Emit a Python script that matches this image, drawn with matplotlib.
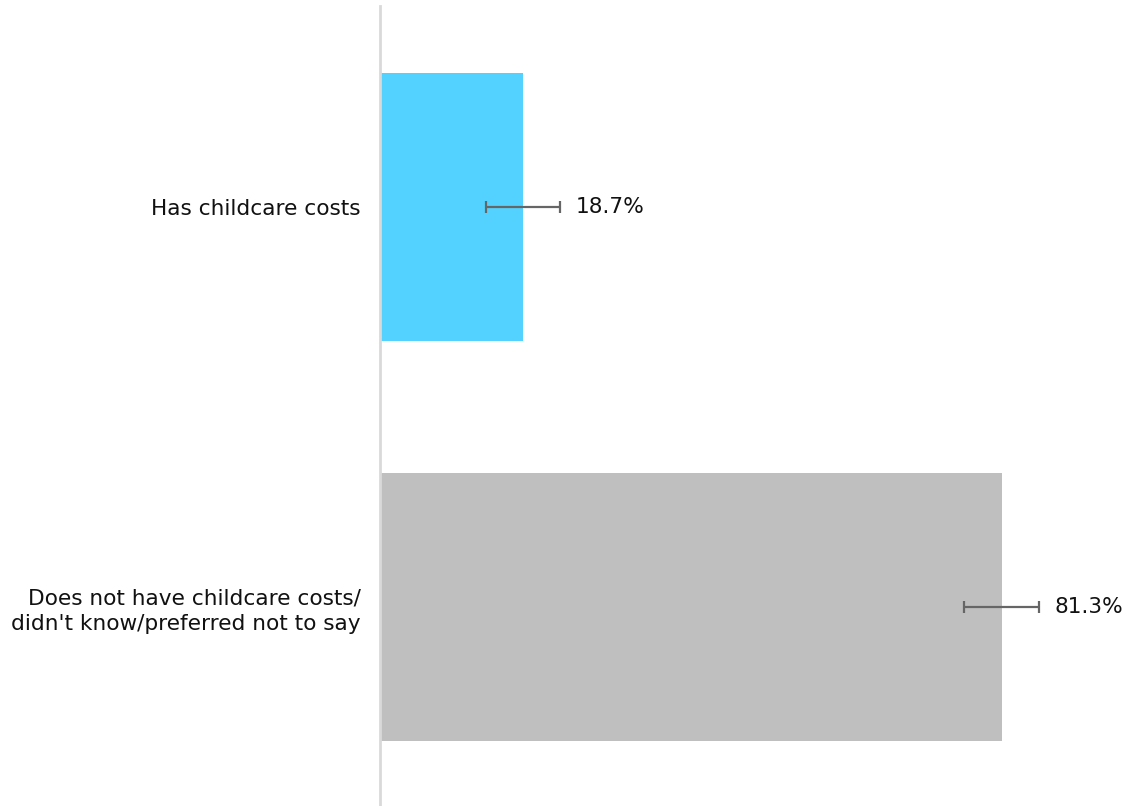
import matplotlib.pyplot as plt

# data
categories = ["Has childcare costs",
              "Does not have childcare costs/\ndidn't know/preferred not to say"]
values = [18.7, 81.3]
errors = [4.9, 4.9]
bar_colors = ["#53D2FF", "#BFBFBF"]

fig = plt.figure(figsize=(11.4, 8.06), dpi=100)
# axes start at the vertical line (x=380px) and run to the right edge
ax = fig.add_axes([380 / 1140, 0, 760 / 1140, 800 / 806])

ypos = list(range(len(categories)))
ax.barh(ypos, values, height=0.67, color=bar_colors, zorder=1)
ax.errorbar(values, ypos, xerr=errors, fmt="none", ecolor="#666666",
            elinewidth=1.6, capsize=4, capthick=1.6, zorder=2)

# value labels just past the error bar
for y, v, e in zip(ypos, values, errors):
    ax.text(v + e + 2.0, y, f"{v}%", va="center", ha="left", fontsize=15.6,
            color="#111111")

ax.set_xlim(0, 760 / 7.645)
ax.set_ylim(1.4975, -0.5025)

ax.set_yticks(ypos)
ax.set_yticklabels(categories, fontsize=15.6, color="#111111", linespacing=1.3)
ax.tick_params(axis="y", length=0, pad=14)
ax.set_xticks([])

for side in ["top", "right", "bottom"]:
    ax.spines[side].set_visible(False)
ax.spines["left"].set_color("#D9D9D9")
ax.spines["left"].set_linewidth(2)

fig.savefig("out.png", dpi=100)
